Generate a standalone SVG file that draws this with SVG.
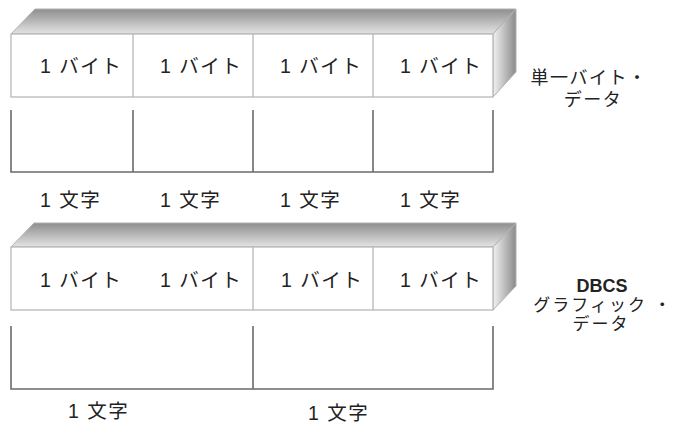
<svg xmlns="http://www.w3.org/2000/svg" width="674" height="425" viewBox="0 0 674 425">
<defs>
<linearGradient id="gTop" x1="0" y1="0" x2="0" y2="1">
<stop offset="0" stop-color="#8e8e8e"/>
<stop offset="1" stop-color="#e4e4e4"/>
</linearGradient>
<linearGradient id="gSide" x1="0" y1="0" x2="1" y2="0">
<stop offset="0" stop-color="#f2f2f2"/>
<stop offset="1" stop-color="#8a8a8a"/>
</linearGradient>
</defs>
<style>
.top{fill:url(#gTop);stroke:#b0b0b0;stroke-width:1}
.side{fill:url(#gSide);stroke:#b0b0b0;stroke-width:1}
.front{fill:#fff;stroke:#b8b8b8;stroke-width:1.3}
.div{stroke:#b8b8b8;stroke-width:1.3;fill:none}
.br{stroke:#6a6a6a;stroke-width:1.6;fill:none}
.t{font-family:"Liberation Sans","Noto Sans CJK JP",sans-serif;font-size:19.5px;fill:#222;letter-spacing:1.5px}
.lab{font-family:"Liberation Sans","Noto Sans CJK JP",sans-serif;font-size:18px;fill:#222;letter-spacing:1.5px;text-anchor:middle}
.sm{font-size:17px;letter-spacing:2px}
.b{font-weight:bold;letter-spacing:0}
</style>

<g id="sbcs-box">
<polygon class="top" points="11,34 35,9 516,9 493,34"/>
<polygon class="side" points="493,34 516,9 516,72 493,97"/>
<rect class="front" x="11" y="34" width="482" height="63"/>
<path class="div" d="M133,34V97M253,34V97M373,34V97"/>
<text class="t" x="40" y="73">1 バイト</text>
<text class="t" x="160" y="73">1 バイト</text>
<text class="t" x="280" y="73">1 バイト</text>
<text class="t" x="400" y="73">1 バイト</text>
</g>

<g id="sbcs-chars">
<path class="br" d="M11,110V172H493V110M133,110V172M253,110V172M373,110V172"/>
<text class="t" x="40" y="207">1 文字</text>
<text class="t" x="160" y="207">1 文字</text>
<text class="t" x="280" y="207">1 文字</text>
<text class="t" x="400" y="207">1 文字</text>
</g>

<g id="sbcs-label">
<text class="lab" x="589" y="84">単一バイト・</text>
<text class="lab" x="593" y="106">データ</text>
</g>

<g id="dbcs-box">
<polygon class="top" points="11,247 34,223 516,223 493,247"/>
<polygon class="side" points="493,247 516,223 516,286 493,310"/>
<rect class="front" x="11" y="247" width="482" height="63"/>
<path class="div" d="M253,247V310M373,247V310"/>
<text class="t" x="40" y="287">1 バイト</text>
<text class="t" x="160" y="287">1 バイト</text>
<text class="t" x="281" y="287">1 バイト</text>
<text class="t" x="400" y="287">1 バイト</text>
</g>

<g id="dbcs-chars">
<path class="br" d="M11,326V389H493V326M253,326V389"/>
<text class="t" x="68" y="418">1 文字</text>
<text class="t" x="308" y="420">1 文字</text>
</g>

<g id="dbcs-label">
<text class="lab b" x="602" y="292">DBCS</text>
<text class="lab sm" x="603" y="311">グラフィック ・</text>
<text class="lab sm" x="601" y="330">データ</text>
</g>
</svg>
